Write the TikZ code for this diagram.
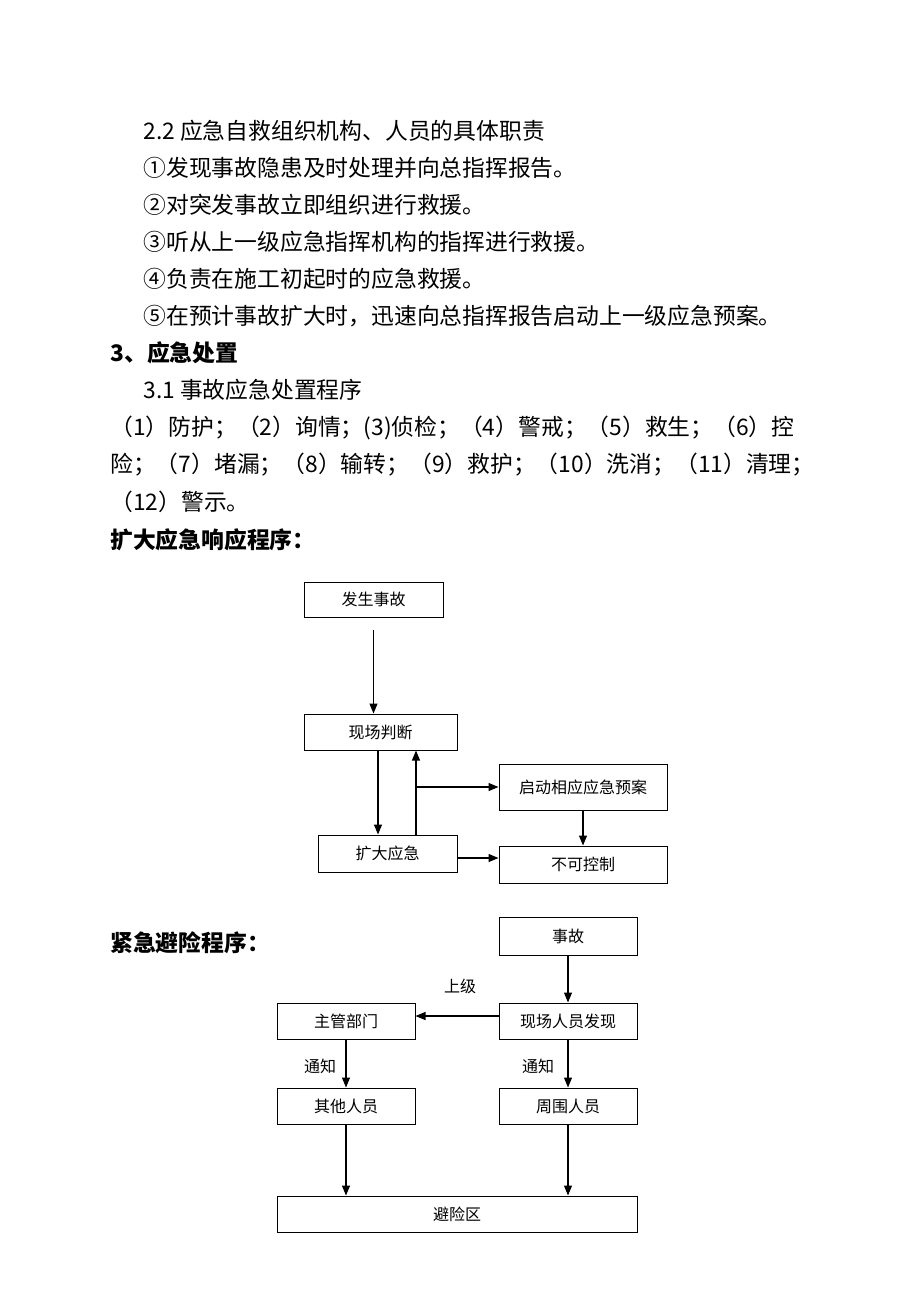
\documentclass[tikz,border=0pt]{standalone}
\usepackage{fontspec}
\setmainfont{Noto Sans CJK SC}
\usetikzlibrary{arrows.meta}
\usetikzlibrary{calc}

\begin{document}
\begin{tikzpicture}[x=0.5pt,y=-0.5pt,>/.tip={Triangle[length=5pt,width=4pt]},
	box/.style={draw,line width=0.5pt,minimum height=18pt,inner sep=0pt,font=\fontsize{8pt}{10pt}\selectfont},
	body/.style={anchor=west,inner sep=0pt,font=\fontsize{11.4pt}{13pt}\selectfont},
	head/.style={anchor=west,inner sep=0pt,font=\fontsize{11.4pt}{13pt}\selectfont\bfseries},
	tag/.style={inner sep=0pt,font=\fontsize{8pt}{10pt}\selectfont},
	link/.style={->,line width=0.6pt}]
	\useasboundingbox (0,0) rectangle (920,1302);

	\node (duty) [body] at (143,131) {2.2 应急自救组织机构、人员的具体职责};
	\node (duty1) [body] at (143,168) {①发现事故隐患及时处理并向总指挥报告。};
	\node (duty2) [body] at (143,205) {②对突发事故立即组织进行救援。};
	\node (duty3) [body] at (143,242) {③听从上一级应急指挥机构的指挥进行救援。};
	\node (duty4) [body] at (143,279) {④负责在施工初起时的应急救援。};
	\node (duty5) [body] at (143,316) {⑤在预计事故扩大时，迅速向总指挥报告启动上一级应急预案。};
	\node (sect) [head] at (110,353) {3、应急处置};
	\node (proc) [body] at (143,390) {3.1 事故应急处置程序};
	\node (step1) [body] at (110,428) {（1）防护；（2）询情；(3)侦检；（4）警戒；（5）救生；（6）控};
	\node (step2) [body] at (110,465) {险；（7）堵漏；（8）输转；（9）救护；（10）洗消；（11）清理；};
	\node (step3) [body] at (110,502) {（12）警示。};
	\node (title1) [head] at (110,540) {扩大应急响应程序：};

	% expanded response
	\draw (373.5,599.5) node (occur) [box,minimum width=69.5pt,minimum height=17.5pt] {发生事故};
	\draw (380.5,732) node (judge) [box,minimum width=76.5pt] {现场判断};
	\draw (387.5,853.5) node (expand) [box,minimum width=69.5pt,minimum height=18.5pt] {扩大应急};
	\draw (583,787) node (plan) [box,minimum width=84pt,minimum height=23pt] {启动相应应急预案};
	\draw (583,864.5) node (ctrl) [box,minimum width=84pt,minimum height=18.5pt] {不可控制};

	\coordinate (gap) at (373.5,630);
	\coordinate (tee) at (416,787);
	\draw[link] (gap) -- (judge.north -| gap);
	\draw[link] ([xshift=-1.25pt]judge.south) -- ([xshift=-1.25pt]judge.south |- expand.north);
	\draw[link] (expand.north -| tee) -- (judge.south -| tee);
	\draw[link] (tee) -- (plan.west);
	\draw[link] (plan) -- (ctrl);
	\draw[link] ([yshift=-2.25pt]expand.east) -- ([yshift=-2.25pt]expand.east -| ctrl.west);

	% evacuation
	\node (title2) [head] at (110,943) {紧急避险程序：};
	\draw (568,936) node (acc) [box,minimum width=69pt,minimum height=19pt] {事故};
	\draw (568,1021) node (find) [box,minimum width=69pt] {现场人员发现};
	\draw (346,1021) node (dept) [box,minimum width=69pt] {主管部门};
	\draw (346,1106) node (others) [box,minimum width=69pt] {其他人员};
	\draw (568,1106) node (around) [box,minimum width=69pt] {周围人员};
	\draw (457,1214) node (refuge) [box,minimum width=180pt] {避险区};
	\node (upper) [tag] at (460,986) {上级};
	\node (note1) [tag] at (320,1066) {通知};
	\node (note2) [tag] at (538,1066) {通知};

	\draw[link] (acc) -- (find);
	\draw[link] ([yshift=2.5pt]find.west) -- ([yshift=2.5pt]find.west -| dept.east);
	\draw[link] (dept) -- (others);
	\draw[link] (find) -- (around);
	\draw[link] (others.south) -- (others.south |- refuge.north);
	\draw[link] (around.south) -- (around.south |- refuge.north);
\end{tikzpicture}
\end{document}
